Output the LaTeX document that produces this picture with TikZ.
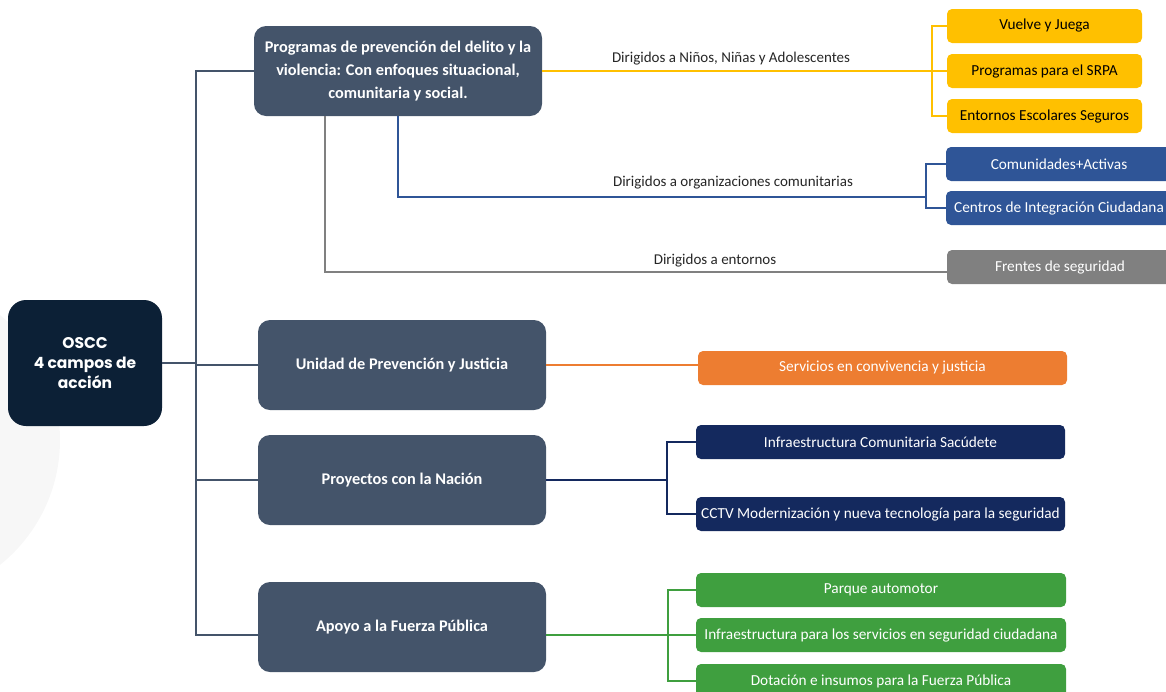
\documentclass[tikz,border=0pt]{standalone}
\usepackage{fontspec}
\setmainfont{Carlito}
\newfontfamily\osccfont{Poppins}
\usetikzlibrary{positioning}

\definecolor{slate}{HTML}{44546A}
\definecolor{osccnavy}{HTML}{0C2036}
\definecolor{ninosyellow}{HTML}{FFC000}
\definecolor{orgblue}{HTML}{2F5597}
\definecolor{entgray}{HTML}{808080}
\definecolor{upjorange}{HTML}{ED7D31}
\definecolor{nacionnavy}{HTML}{14295E}
\definecolor{fpgreen}{HTML}{3F9F3F}

\tikzset{
  rootbox/.style={fill=osccnavy, text=white, rounded corners=18pt, minimum width=154pt,
    minimum height=126pt, align=center, font=\osccfont\bfseries\fontsize{15.5}{20}\selectfont},
  fieldbox/.style={fill=slate, text=white, rounded corners=12pt, minimum width=288pt,
    minimum height=90pt, align=center, font=\bfseries\fontsize{16.3}{23}\selectfont},
  leafbox/.style={rounded corners=5pt, minimum height=34pt, inner xsep=0pt, font=\fontsize{15.3}{17}\selectfont},
  lbl/.style={font=\fontsize{15}{17}\selectfont, text=black!85},
  trunk/.style={draw=slate, line width=2.4pt},
  link/.style={line width=2.4pt}
}

\begin{document}
\begin{tikzpicture}[x=1pt,y=-1pt]
\useasboundingbox (0,0) rectangle (1166,691);
% faint watermark
\fill[black!3] (-100,440) circle (160);

% root and the four fields
\node[rootbox] (oscc) at (85,363) {OSCC\\4 campos de\\acción};
\node[fieldbox] (prog) at (398,71) {Programas de prevención del delito y la\\violencia: Con enfoques situacional,\\comunitaria y social.};
\node[fieldbox] (unidad) at (402,365) {Unidad de Prevención y Justicia};
\node[fieldbox] (proy) at (402,480) {Proyectos con la Nación};
\node[fieldbox] (apoyo) at (402,627) {Apoyo a la Fuerza Pública};

\coordinate (hub) at (196,363);
\draw[trunk] (oscc.east) -- (hub);
\draw[trunk] (hub) |- (prog.west);
\draw[trunk] (hub) |- (unidad.west);
\draw[trunk] (hub) |- (proy.west);
\draw[trunk] (hub) |- ([yshift=-8pt]apoyo.west);

% ninos, ninas y adolescentes
\node[leafbox, fill=ninosyellow, text=black, minimum width=195pt] (vuelve) at (1044.5,26) {Vuelve y Juega};
\node[leafbox, fill=ninosyellow, text=black, minimum width=195pt] (srpa) at (1044.5,71) {Programas para el SRPA};
\node[leafbox, fill=ninosyellow, text=black, minimum width=195pt] (escolar) at (1044.5,116) {Entornos Escolares Seguros};
\coordinate (yj) at (932,71);
\draw[link, ninosyellow] (prog.east) -- (yj);
\draw[link, ninosyellow] (yj) |- (vuelve.west);
\draw[link, ninosyellow] (yj) |- (srpa.west);
\draw[link, ninosyellow] (yj) |- (escolar.west);
\node[lbl] (lblnna) at (731,59) {Dirigidos a Niños, Niñas y Adolescentes};

% organizaciones comunitarias
\node[leafbox, fill=orgblue, text=white, minimum width=226pt] (comun) at (1059,164) {Comunidades+Activas};
\node[leafbox, fill=orgblue, text=white, minimum width=226pt] (centros) at (1059,208) {Centros de Integración Ciudadana};
\coordinate (bj) at (926,197);
\draw[link, orgblue] (prog.south) |- (bj);
\draw[link, orgblue] (bj) |- (comun.west);
\draw[link, orgblue] (bj) |- (centros.west);
\node[lbl] (lblorg) at (733,183) {Dirigidos a organizaciones comunitarias};

% entornos
\node[leafbox, fill=entgray, text=white, minimum width=226pt] (frentes) at (1060,267) {Frentes de seguridad};
\draw[link, entgray] ([xshift=-73pt]prog.south) |- ([yshift=-5pt]frentes.west);
\node[lbl] (lblent) at (715,261) {Dirigidos a entornos};

% unidad de prevencion y justicia
\node[leafbox, fill=upjorange, text=white, minimum width=369pt] (servicios) at (882.5,368) {Servicios en convivencia y justicia};
\draw[link, upjorange] (unidad.east) -- (servicios.west |- unidad.east);

% proyectos con la nacion
\node[leafbox, fill=nacionnavy, text=white, minimum width=369pt] (sacudete) at (880.5,442) {Infraestructura Comunitaria Sacúdete};
\node[leafbox, fill=nacionnavy, text=white, minimum width=369pt] (cctv) at (880.5,514) {CCTV Modernización y nueva tecnología para la seguridad};
\coordinate (nj) at (667,480);
\draw[link, nacionnavy] (proy.east) -- (nj);
\draw[link, nacionnavy] (nj) |- (sacudete.west);
\draw[link, nacionnavy] (nj) |- (cctv.west);

% apoyo a la fuerza publica
\node[leafbox, fill=fpgreen, text=white, minimum width=370pt] (parque) at (881,590) {Parque automotor};
\node[leafbox, fill=fpgreen, text=white, minimum width=370pt] (infrafp) at (881,635) {Infraestructura para los servicios en seguridad ciudadana};
\node[leafbox, fill=fpgreen, text=white, minimum width=370pt] (dotacion) at (881,681) {Dotación e insumos para la Fuerza Pública};
\coordinate (gj) at (668,635);
\draw[link, fpgreen] ([yshift=-8pt]apoyo.east) -- (gj);
\draw[link, fpgreen] (gj) |- (parque.west);
\draw[link, fpgreen] (gj) |- (infrafp.west);
\draw[link, fpgreen] (gj) |- (dotacion.west);
\end{tikzpicture}
\end{document}
